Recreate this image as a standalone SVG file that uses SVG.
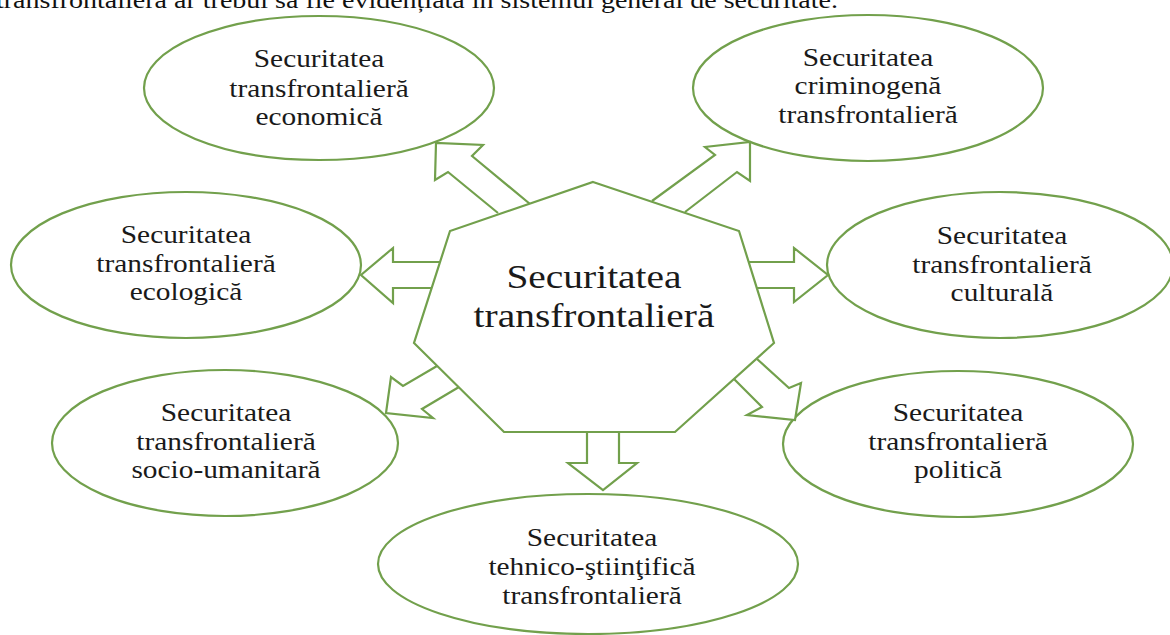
<svg xmlns="http://www.w3.org/2000/svg" width="1170" height="635" viewBox="0 0 1170 635">
<style>
.shape{fill:#fff;stroke:#72a04c;stroke-width:2.2;stroke-linejoin:miter}
.arr{fill:#fff;stroke:#72a04c;stroke-width:2.2;stroke-linejoin:miter}
.lbl{font-family:"Liberation Serif","Times New Roman",serif;font-size:26px;fill:#1a1a1a;text-anchor:middle}
.big{font-family:"Liberation Serif","Times New Roman",serif;font-size:34px;fill:#1a1a1a;text-anchor:middle}
.top{font-family:"Liberation Serif","Times New Roman",serif;font-size:24px;fill:#111}
</style>
<rect width="1170" height="635" fill="#fff"/>
<text class="top" x="-4" y="8" textLength="842" lengthAdjust="spacingAndGlyphs">transfrontalieră ar trebui să fie evidențiată în sistemul general de securitate.</text>

<g id="node-economica">
<ellipse class="shape" cx="319" cy="88" rx="175" ry="72"/>
<g transform="translate(319,0) scale(1.13,1)">
<text class="lbl" x="0" y="67">Securitatea</text>
<text class="lbl" x="0" y="97">transfrontalieră</text>
<text class="lbl" x="0" y="125">economică</text>
</g>
</g>

<g id="node-criminogena">
<ellipse class="shape" cx="868" cy="88" rx="175" ry="73"/>
<g transform="translate(868,0) scale(1.13,1)">
<text class="lbl" x="0" y="66">Securitatea</text>
<text class="lbl" x="0" y="94">criminogenă</text>
<text class="lbl" x="0" y="123">transfrontalieră</text>
</g>
</g>

<g id="node-ecologica">
<ellipse class="shape" cx="186" cy="265" rx="175" ry="73"/>
<g transform="translate(186,0) scale(1.13,1)">
<text class="lbl" x="0" y="243">Securitatea</text>
<text class="lbl" x="0" y="272">transfrontalieră</text>
<text class="lbl" x="0" y="300">ecologică</text>
</g>
</g>

<g id="node-culturala">
<ellipse class="shape" cx="1000" cy="265" rx="173" ry="73"/>
<g transform="translate(1002,0) scale(1.13,1)">
<text class="lbl" x="0" y="244">Securitatea</text>
<text class="lbl" x="0" y="273">transfrontalieră</text>
<text class="lbl" x="0" y="301">culturală</text>
</g>
</g>

<g id="node-socio-umanitara">
<ellipse class="shape" cx="225" cy="443" rx="173" ry="73"/>
<g transform="translate(226,0) scale(1.13,1)">
<text class="lbl" x="0" y="421">Securitatea</text>
<text class="lbl" x="0" y="450">transfrontalieră</text>
<text class="lbl" x="0" y="478">socio-umanitară</text>
</g>
</g>

<g id="node-politica">
<ellipse class="shape" cx="958" cy="444" rx="175" ry="73"/>
<g transform="translate(958,0) scale(1.13,1)">
<text class="lbl" x="0" y="421">Securitatea</text>
<text class="lbl" x="0" y="450">transfrontalieră</text>
<text class="lbl" x="0" y="478">politică</text>
</g>
</g>

<g id="node-tehnico-stiintifica">
<ellipse class="shape" cx="588" cy="564" rx="210" ry="70"/>
<g transform="translate(592,0) scale(1.13,1)">
<text class="lbl" x="0" y="546">Securitatea</text>
<text class="lbl" x="0" y="575">tehnico-ştiinţifică</text>
<text class="lbl" x="0" y="604">transfrontalieră</text>
</g>
</g>

<g id="connectors">
<polyline class="arr" points="530,204 472,156 483,145 436,143 435,180 448,172 498,213"/>
<polyline class="arr" points="652,201 715,155 705,147 750,142 750,181 737,172 685,212"/>
<polyline class="arr" points="441,262 393,262 393,248 361,275 393,303 393,288 432,288"/>
<polyline class="arr" points="749,262 794,262 794,248 828,275 794,302 794,288 757,288"/>
<polyline class="arr" points="437,366 403,386 391,377 386,413 433,418 422,409 459,387"/>
<polyline class="arr" points="757,359 789,388 801,383 795,420 747,415 762,407 734,379"/>
<polyline class="arr" points="587,432 587,463 568,463 603,490 637,463 619,463 619,432"/>
</g>

<g id="node-center">
<polygon class="shape" points="593,182 739,231 774,343 675,432 504,432 414,343 450,231"/>
<g transform="translate(594,0) scale(1.16,1)">
<text class="big" x="0" y="288">Securitatea</text>
<text class="big" x="0" y="327">transfrontalieră</text>
</g>
</g>
</svg>
